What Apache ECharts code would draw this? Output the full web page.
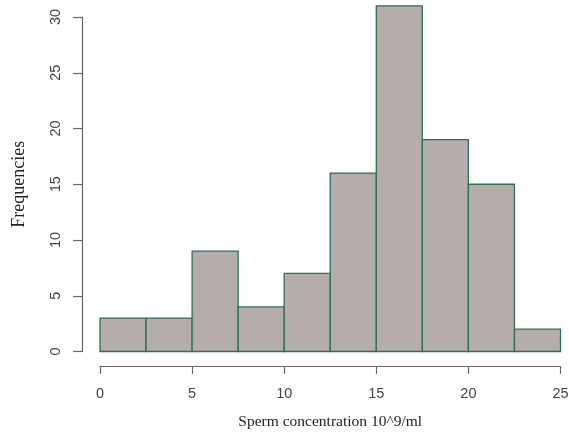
<!DOCTYPE html>
<html><head><meta charset="utf-8">
<script src="https://cdn.jsdelivr.net/npm/echarts@6/dist/echarts.min.js"></script>
<style>html,body{margin:0;padding:0;background:#fff}#c{width:569px;height:435px}</style>
</head><body><div id="c"></div>
<script>
const binStarts = [0, 2.5, 5, 7.5, 10, 12.5, 15, 17.5, 20, 22.5];
const binWidth = 2.5;
const counts = [3, 3, 9, 4, 7, 16, 31, 19, 15, 2];
const xTicks = [0, 5, 10, 15, 20, 25];
const yTicks = [0, 5, 10, 15, 20, 25, 30];

const data = binStarts.map((s, i) => [s, s + binWidth, counts[i]]);
const chart = echarts.init(document.getElementById('c'));
chart.setOption({
  animation: false,
  grid: {left: 100, right: 8.5, top: 17, bottom: 83.5, outerBoundsMode: 'none', containLabel: false},
  xAxis: {
    type: 'value', min: 0, max: 25, interval: 5, offset: 14.5,
    name: 'Sperm concentration 10^9/ml', nameLocation: 'middle', nameGap: 48,
    nameTextStyle: {fontFamily: 'Liberation Serif', fontSize: 15.5, color: '#222'},
    axisLine: {show: true, onZero: false, lineStyle: {color: '#666', width: 1.2}},
    axisTick: {show: true, length: 8, lineStyle: {color: '#666', width: 1.2}},
    axisLabel: {fontFamily: 'Liberation Sans', fontSize: 14.5, color: '#444', margin: 20,
      formatter: v => xTicks.includes(v) ? String(v) : ''},
    splitLine: {show: false}
  },
  yAxis: {
    type: 'value', min: 0, max: 30, interval: 5, offset: 18,
    name: 'Frequencies', nameLocation: 'middle', nameGap: 54, nameRotate: 90,
    nameTextStyle: {fontFamily: 'Liberation Serif', fontSize: 18, color: '#222'},
    axisLine: {show: true, onZero: false, lineStyle: {color: '#666', width: 1.2}},
    axisTick: {show: true, length: 9, lineStyle: {color: '#666', width: 1.2}},
    axisLabel: {fontFamily: 'Liberation Sans', fontSize: 14.5, color: '#444', rotate: 90, margin: 19,
      formatter: v => yTicks.includes(v) ? String(v) : ''},
    splitLine: {show: false}
  },
  series: [{
    type: 'custom',
    clip: false,
    data: data,
    encode: {x: [0, 1], y: 2},
    renderItem: function (params, api) {
      const p0 = api.coord([api.value(0), 0]);
      const p1 = api.coord([api.value(1), api.value(2)]);
      return {
        type: 'rect',
        shape: {x: p0[0], y: p1[1], width: p1[0] - p0[0], height: p0[1] - p1[1]},
        style: {fill: '#b5adaa', stroke: '#2f6e55', lineWidth: 1.3}
      };
    }
  }]
});
</script></body></html>
